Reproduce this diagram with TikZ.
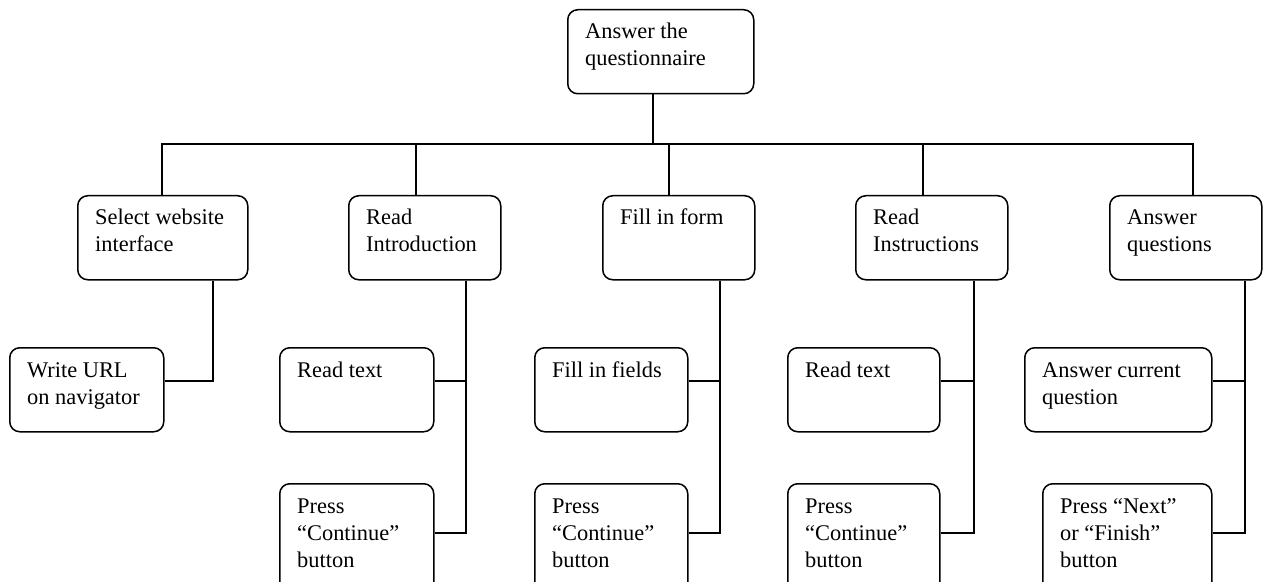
\documentclass[tikz,border=0pt]{standalone}
\usepackage{fontspec}
\setmainfont{Liberation Serif}
\newcommand{\bxtxt}[1]{\parbox[t]{220bp}{\raggedright #1}}
\begin{document}
\begin{tikzpicture}[x=1bp,y=-1bp,
  box/.style={draw, line width=1.5bp, rounded corners=10bp, rectangle, anchor=north west, inner sep=0pt},
  txt/.style={anchor=base west, inner sep=0pt, xshift=18bp, yshift=-30bp,
    font=\fontsize{22.4bp}{27bp}\selectfont},
  conn/.style={line width=1.5bp}]
\useasboundingbox (0,0) rectangle (1269,582);
\clip (0,0) rectangle (1269,582);
% boxes
\node[box, minimum width=186bp, minimum height=84bp] (root) at (567,9) {};
\node[box, minimum width=170bp, minimum height=84bp] (sel) at (77,195) {};
\node[box, minimum width=152bp, minimum height=84bp] (intro) at (348,195) {};
\node[box, minimum width=152bp, minimum height=84bp] (fill) at (602,195) {};
\node[box, minimum width=152bp, minimum height=84bp] (instr) at (855,195) {};
\node[box, minimum width=152bp, minimum height=84bp] (ans) at (1109,195) {};
\node[box, minimum width=154bp, minimum height=84bp] (url) at (9,347) {};
\node[box, minimum width=154bp, minimum height=84bp] (rt1) at (279,347) {};
\node[box, minimum width=154bp, minimum height=120bp] (pc1) at (279,483) {};
\node[box, minimum width=153bp, minimum height=84bp] (ff) at (534,347) {};
\node[box, minimum width=153bp, minimum height=120bp] (pc2) at (534,483) {};
\node[box, minimum width=152bp, minimum height=84bp] (rt2) at (787,347) {};
\node[box, minimum width=152bp, minimum height=120bp] (pc3) at (787,483) {};
\node[box, minimum width=187bp, minimum height=84bp] (acq) at (1024,347) {};
\node[box, minimum width=169bp, minimum height=120bp] (pn) at (1042,483) {};
% texts
\node[txt] (troot) at (root.north west) {\bxtxt{Answer the\\questionnaire}};
\node[txt] (tsel) at (sel.north west) {\bxtxt{Select website\\interface}};
\node[txt] (tintro) at (intro.north west) {\bxtxt{Read\\Introduction}};
\node[txt] (tfill) at (fill.north west) {\bxtxt{Fill in form}};
\node[txt] (tinstr) at (instr.north west) {\bxtxt{Read\\Instructions}};
\node[txt] (tans) at (ans.north west) {\bxtxt{Answer\\questions}};
\node[txt] (turl) at (url.north west) {\bxtxt{Write URL\\on navigator}};
\node[txt] (trt1) at (rt1.north west) {\bxtxt{Read text}};
\node[txt] (tpc1) at (pc1.north west) {\bxtxt{Press\\“Continue”\\button}};
\node[txt] (tff) at (ff.north west) {\bxtxt{Fill in fields}};
\node[txt] (tpc2) at (pc2.north west) {\bxtxt{Press\\“Continue”\\button}};
\node[txt] (trt2) at (rt2.north west) {\bxtxt{Read text}};
\node[txt] (tpc3) at (pc3.north west) {\bxtxt{Press\\“Continue”\\button}};
\node[txt] (tacq) at (acq.north west) {\bxtxt{Answer current\\question}};
\node[txt] (tpn) at (pn.north west) {\bxtxt{Press “Next”\\or “Finish”\\button}};
% top connectors
\draw[conn] (653,0 |- root.south) -- (653,144);
\draw[conn] (162,0 |- sel.north) -- (162,144) -- (1193,144) -- (1193,0 |- ans.north);
\draw[conn] (416,144) -- (416,0 |- intro.north);
\draw[conn] (669,144) -- (669,0 |- fill.north);
\draw[conn] (923,144) -- (923,0 |- instr.north);
% sub connectors
\draw[conn] (213,0 |- sel.south) -- (213,381) -- (url.east |- 0,381);
\draw[conn] (466,0 |- intro.south) -- (466,533) -- (pc1.east |- 0,533);
\draw[conn] (466,381) -- (rt1.east |- 0,381);
\draw[conn] (720,0 |- fill.south) -- (720,533) -- (pc2.east |- 0,533);
\draw[conn] (720,381) -- (ff.east |- 0,381);
\draw[conn] (974,0 |- instr.south) -- (974,533) -- (pc3.east |- 0,533);
\draw[conn] (974,381) -- (rt2.east |- 0,381);
\draw[conn] (1245,0 |- ans.south) -- (1245,533) -- (pn.east |- 0,533);
\draw[conn] (1245,381) -- (acq.east |- 0,381);
\end{tikzpicture}
\end{document}
